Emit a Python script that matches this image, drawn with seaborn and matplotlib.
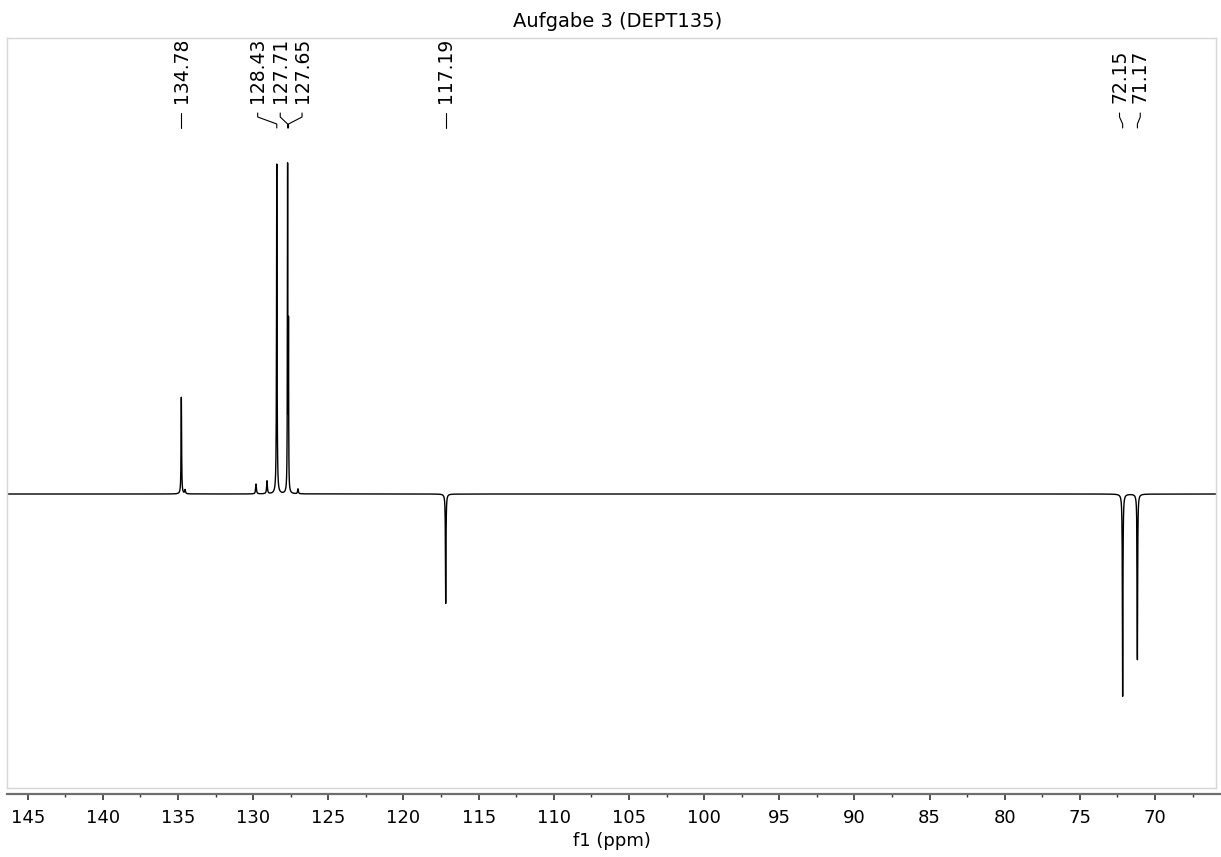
import numpy as np
import pandas as pd
import matplotlib
matplotlib.use("Agg")
import matplotlib.pyplot as plt
import matplotlib.transforms as mtransforms
from matplotlib.ticker import MultipleLocator
import seaborn as sns

# ---------------- data ----------------
title = "Aufgabe 3 (DEPT135)"
xlabel = "f1 (ppm)"

# peak list (ppm, relative intensity, half width in ppm)
peak_ppm = [134.78, 134.53, 129.81, 129.08, 128.43, 127.71, 127.65, 127.02, 117.19, 72.15, 71.17]
peak_height = [29.3, 1.2, 3.0, 3.9, 100.0, 98.5, 48.0, 1.5, -33.2, -61.3, -50.2]
peak_hwhm = [0.02, 0.03, 0.03, 0.03, 0.02, 0.015, 0.012, 0.03, 0.02, 0.02, 0.02]

# peak labels
label_text = ["134.78", "128.43", "127.71", "127.65", "117.19", "72.15", "71.17"]
label_peak_ppm = [134.78, 128.43, 127.71, 127.65, 117.19, 72.15, 71.17]
label_pos_ppm = [134.78, 129.70, 128.20, 126.75, 117.19, 72.36, 70.98]

x_left, x_right = 146.38, 65.94
y_bottom, y_top = -89.1, 138.2

# ---------------- spectrum line from peak list ----------------
ppm = np.linspace(x_right, x_left, 60000)
inten = np.zeros_like(ppm)
for p, h, w in zip(peak_ppm, peak_height, peak_hwhm):
    inten += h * w**2 / ((ppm - p) ** 2 + w**2)
df = pd.DataFrame({"ppm": ppm, "intensity": inten})

# ---------------- figure ----------------
sns.set_theme(style="white")
plt.rcParams["font.family"] = ["DejaVu Sans"]

fig = plt.figure(figsize=(12.21, 8.57), dpi=100)
ax = fig.add_axes([7 / 1221, 1 - 788 / 857, (1216 - 7) / 1221, 750 / 857])

sns.lineplot(data=df, x="ppm", y="intensity", ax=ax, color="black",
             linewidth=1.0, estimator=None, sort=False)

ax.set_xlim(x_left, x_right)
ax.set_ylim(y_bottom, y_top)
ax.set_yticks([])
ax.set_ylabel("")
ax.set_xlabel(xlabel, fontsize=13, labelpad=4, color="black")
ax.set_title(title, fontsize=14, pad=8, color="black", x=0.505)

ax.xaxis.set_major_locator(MultipleLocator(5))
ax.xaxis.set_minor_locator(MultipleLocator(2.5))
ax.tick_params(axis="x", which="major", direction="out", length=4.5, width=1.2,
               color="#333333", labelsize=13, pad=6.5, labelcolor="black", bottom=True)
ax.tick_params(axis="x", which="minor", direction="out", length=2.5, width=1.0,
               color="#333333", bottom=True)

frame_col = "#d6d6d6"
for s in ["top", "left", "right"]:
    ax.spines[s].set_color(frame_col)
    ax.spines[s].set_linewidth(1.0)
ax.spines["bottom"].set_position(("outward", 4))
ax.spines["bottom"].set_color("#6e6e6e")
ax.spines["bottom"].set_linewidth(1.6)
ax.spines["bottom"].set_bounds(x_left, 65.6)
ax.plot([0, 1], [0, 0], transform=ax.transAxes, color=frame_col, lw=1.0, clip_on=False)

# ---------------- peak labels ----------------
trans = mtransforms.blended_transform_factory(ax.transData, ax.transAxes)
def yf(px):
    return (788 - px) / 750

for txt, pk, pos in zip(label_text, label_peak_ppm, label_pos_ppm):
    ax.text(pos, yf(103), txt, rotation=90, ha="center", va="bottom",
            fontsize=13.5, color="black", transform=trans)
    ax.plot([pos, pos, pk, pk], [yf(113), yf(117), yf(124), yf(128)],
            transform=trans, color="black", lw=0.8, clip_on=False)

fig.savefig("out.png", dpi=100)
